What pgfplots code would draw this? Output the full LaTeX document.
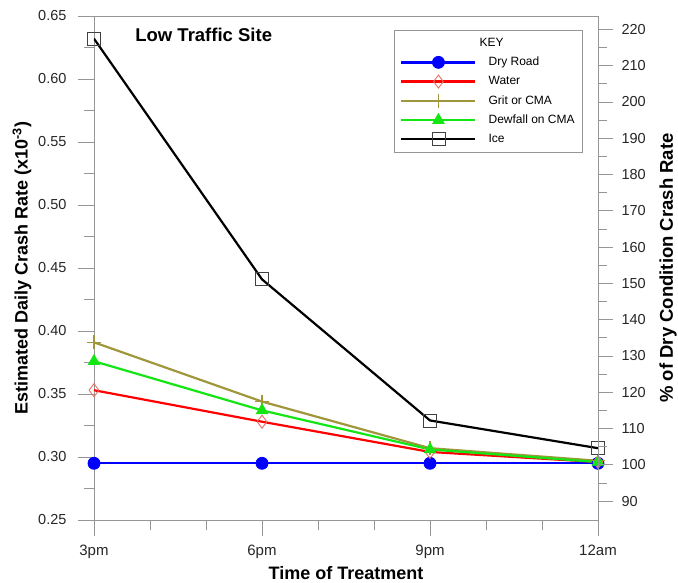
\documentclass[border=0pt]{standalone}
\usepackage{fontspec}
\setmainfont{Liberation Sans}
\usepackage{pgfplots}
\pgfplotsset{compat=1.18}
\definecolor{grit}{RGB}{160,150,60}
\definecolor{dew}{RGB}{20,230,20}
\definecolor{axgray}{RGB}{150,150,150}
\definecolor{ltred}{RGB}{235,110,100}
\begin{document}
\begin{tikzpicture}
\useasboundingbox (-94pt,-63pt) rectangle (584pt,520pt);
\begin{axis}[
  at={(0pt,0pt)}, anchor=south west,
  width=504pt, height=504pt, scale only axis,
  xmin=0, xmax=3, ymin=0.25, ymax=0.65,
  xtick={0,1,2,3}, xticklabels={3pm,6pm,9pm,12am},
  minor x tick num=2,
  ytick={0.25,0.30,0.35,0.40,0.45,0.50,0.55,0.60,0.65},
  minor y tick num=1,
  xtick pos=bottom, ytick pos=left,
  /pgf/number format/assume math mode=true,
  tick align=outside, major tick length=16pt, minor tick length=10pt,
  axis line style={axgray, line width=0.8pt},
  tick style={axgray, line width=0.8pt},
  xticklabel style={font=\fontsize{15}{17}\selectfont, text=black!85, yshift=-5pt},
  yticklabel style={font=\fontsize{14.5}{17}\selectfont, text=black!85, xshift=-8pt, /pgf/number format/.cd,fixed,fixed zerofill,precision=2},
  xlabel={Time of Treatment},
  ylabel={Estimated Daily Crash Rate (x10\textsuperscript{-3})},
  xlabel style={font=\bfseries\fontsize{18}{20}\selectfont, at={(rel axis cs:0.5,0)}, anchor=center, yshift=-53pt, inner sep=0pt},
  ylabel style={font=\bfseries\fontsize{18}{20}\selectfont, at={([xshift=-72pt]rel axis cs:0,0.5)}, anchor=center, inner sep=0pt},
  legend style={at={(rel axis cs:0.970,0.972)}, anchor=north east,
    draw=axgray, font=\fontsize{12}{14}\selectfont,
    inner xsep=6pt, inner ysep=6pt, row sep=5.2pt, column sep=10pt},
  legend cell align=left,
  legend image code/.code={\draw[mark repeat=2,mark phase=2] plot coordinates {(0pt,0pt) (37pt,0pt) (74pt,0pt)};},
]
\addlegendimage{empty legend}
\addlegendentry{\hspace*{-9pt}KEY}
\addplot[blue, line width=2.4pt, mark=*, mark size=6pt, mark options={fill=blue, draw=blue, line width=0.8pt}] coordinates {(0,0.295) (1,0.295) (2,0.295) (3,0.295)};
\addlegendentry{Dry Road}
\addplot[red, line width=2.2pt, mark=diamond, mark size=6.5pt, mark options={draw=ltred, fill=white, line width=0.9pt}] coordinates {(0,0.353) (1,0.328) (2,0.304) (3,0.296)};
\addlegendentry{Water}
\addplot[grit, line width=2.2pt, mark=+, mark size=7pt, mark options={line width=1.2pt}] coordinates {(0,0.391) (1,0.344) (2,0.307) (3,0.297)};
\addlegendentry{Grit or CMA}
\addplot[dew, line width=2.2pt, mark=triangle*, mark size=6.5pt, mark options={fill=dew, draw=dew, line width=0.8pt}] coordinates {(0,0.376) (1,0.337) (2,0.306) (3,0.296)};
\addlegendentry{Dewfall on CMA}
\addplot[black, line width=2.2pt, mark=square, mark size=6.5pt, mark options={draw=black!75, line width=0.9pt, fill=none}] coordinates {(0,0.632) (1,0.441) (2,0.329) (3,0.307)};
\addlegendentry{Ice}
\node[anchor=west, font=\bfseries\fontsize{18.5}{20}\selectfont] at (rel axis cs:0.075,0.962) {Low Traffic Site};
\end{axis}
\begin{axis}[
  at={(0pt,0pt)}, anchor=south west,
  width=504pt, height=504pt, scale only axis,
  xmin=0, xmax=3, ymin=84.8, ymax=223.7,
  axis x line=none, axis y line*=right,
  ytick={90,100,110,120,130,140,150,160,170,180,190,200,210,220},
  minor y tick num=1,
  /pgf/number format/assume math mode=true,
  tick align=outside, major tick length=15pt, minor tick length=9pt,
  axis line style={axgray, line width=0.8pt},
  tick style={axgray, line width=0.8pt},
  yticklabel style={font=\fontsize{14.5}{17}\selectfont, text=black!85, xshift=5pt},
  ylabel={\% of Dry Condition Crash Rate},
  ylabel style={font=\bfseries\fontsize{18.5}{20}\selectfont, at={([xshift=70pt]rel axis cs:1,0.5)}, anchor=center, inner sep=0pt},
]
\end{axis}
\end{tikzpicture}
\end{document}
